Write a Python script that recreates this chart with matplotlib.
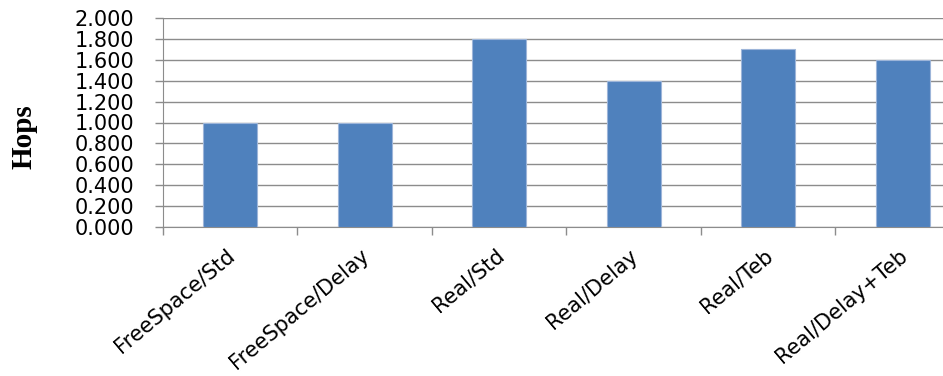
import matplotlib.pyplot as plt
from matplotlib.ticker import FixedLocator, FuncFormatter

categories = ["FreeSpace/Std", "FreeSpace/Delay", "Real/Std",
              "Real/Delay", "Real/Teb", "Real/Delay+Teb"]
hops = [1.0, 1.0, 1.8, 1.4, 1.7, 1.6]
y_ticks = [0.0, 0.2, 0.4, 0.6, 0.8, 1.0, 1.2, 1.4, 1.6, 1.8, 2.0]

fig = plt.figure(figsize=(9.43, 3.76), dpi=100)
ax = fig.add_axes([163 / 943, 149 / 376, 780 / 943, 209 / 376])

x = range(len(categories))
ax.bar(x, hops, width=0.4, color="#4F81BD", edgecolor="#9DB5D9",
       linewidth=0.8, zorder=3)

ax.set_xlim(-0.5, 5.3)
ax.set_ylim(0, 2.0)

# horizontal gridlines, Excel style
ax.set_yticks(y_ticks)
ax.yaxis.set_major_formatter(FuncFormatter(lambda v, p: "{:.3f}".format(v)))
ax.grid(axis="y", color="#8C8C8C", linewidth=1.0, zorder=0)
ax.tick_params(axis="y", length=5.8, width=1, color="#8C8C8C",
               labelsize=15, pad=15)

# category ticks sit between the bars
ax.xaxis.set_major_locator(FixedLocator([i - 0.5 for i in x]))
ax.xaxis.set_major_formatter(FuncFormatter(lambda v, p: ""))
ax.tick_params(axis="x", length=5.8, width=1, color="#8C8C8C")

for i, name in zip(x, categories):
    ax.annotate(name, xy=(i, 0), xycoords=("data", "axes fraction"),
                xytext=(2, -26), textcoords="offset pixels",
                rotation=40, ha="right", va="center",
                rotation_mode="anchor", fontsize=15)

for side in ["top", "right"]:
    ax.spines[side].set_visible(False)
ax.spines["left"].set_color("#8C8C8C")
ax.spines["bottom"].set_color("#8C8C8C")

fig.text(24 / 943, 1 - 137 / 376, "Hops", rotation=90, ha="center",
         va="center", fontsize=21, fontweight="bold",
         family="Liberation Serif")

fig.savefig("out.png", dpi=100)
